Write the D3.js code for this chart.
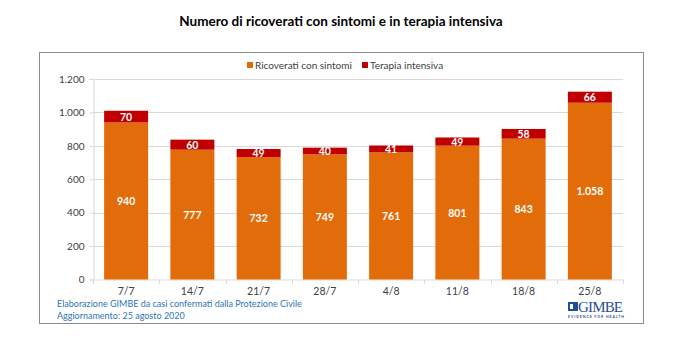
<!DOCTYPE html>
<html><head><meta charset="utf-8">
<script src="https://cdn.jsdelivr.net/npm/d3@7"></script>
<style>body{margin:0;background:#fff}svg{display:block}</style>
</head><body>
<svg id="c" width="694" height="353"></svg>
<script>
const categories = ["7/7","14/7","21/7","28/7","4/8","11/8","18/8","25/8"];
const ricoverati = [940,777,732,749,761,801,843,1058];
const terapia = [70,60,49,40,41,49,58,66];
const yTicks = [0,200,400,600,800,1000,1200];
const seriesNames = ["Ricoverati con sintomi","Terapia intensiva"];
const colors = ["#E36C0A","#C00000"];

const svg = d3.select("#c");
const font = "Lato, 'Open Sans', sans-serif";
const fmt = v => d3.format(",")(v).replace(/,/g,".");

// title
svg.append("text").attr("x",341).attr("y",26).attr("text-anchor","middle")
  .attr("font-family",font).attr("font-weight","bold").attr("font-size",13.5).attr("fill","#000")
  .text("Numero di ricoverati con sintomi e in terapia intensiva");

// frame
svg.append("rect").attr("x",39.5).attr("y",52.5).attr("width",604).attr("height",271)
  .attr("fill","#fff").attr("stroke","#8c8c8c").attr("stroke-width",1);

const x = d3.scaleBand().domain(categories).range([93,623]).paddingInner(0.336).paddingOuter(0.168);
const y = d3.scaleLinear().domain([0,1200]).range([279.5,79]);

// grid
svg.append("g").selectAll("line").data(yTicks.filter(d=>d>0)).join("line")
  .attr("x1",93).attr("x2",623).attr("y1",d=>Math.round(y(d))+0.5).attr("y2",d=>Math.round(y(d))+0.5)
  .attr("stroke","#d9d9d9");

// y axis
const ya = svg.append("g").attr("transform","translate(93.5,0)")
  .call(d3.axisLeft(y).tickValues(yTicks).tickFormat(fmt).tickSize(4).tickPadding(5));
ya.select(".domain").attr("stroke","#d9d9d9");
ya.selectAll(".tick line").attr("stroke","#d9d9d9");
ya.selectAll("text").attr("font-family",font).attr("font-size",10).attr("fill","#404040");

// x axis
const xa = svg.append("g").attr("transform","translate(0,279.5)")
  .call(d3.axisBottom(x).tickSize(0).tickPadding(8));
xa.select(".domain").attr("stroke","#d9d9d9");
xa.selectAll("text").attr("font-family",font).attr("font-size",10.5).attr("fill","#404040");
const step = x.step();
svg.append("g").selectAll("line").data(d3.range(categories.length+1)).join("line")
  .attr("x1",i=>Math.round(93+i*530/categories.length)+0.5).attr("x2",i=>Math.round(93+i*530/categories.length)+0.5)
  .attr("y1",279.5).attr("y2",284).attr("stroke","#d9d9d9");

// bars
const data = categories.map((c,i)=>({c, a:ricoverati[i], b:terapia[i]}));
const g = svg.append("g");
g.selectAll(".ra").data(data).join("rect")
  .attr("x",d=>x(d.c)).attr("width",x.bandwidth())
  .attr("y",d=>y(d.a)).attr("height",d=>y(0)-y(d.a)).attr("fill",colors[0]);
g.selectAll(".rb").data(data).join("rect")
  .attr("x",d=>x(d.c)).attr("width",x.bandwidth())
  .attr("y",d=>y(d.a+d.b)).attr("height",d=>y(d.a)-y(d.a+d.b)).attr("fill",colors[1]);
g.selectAll(".la").data(data).join("text")
  .attr("x",d=>x(d.c)+x.bandwidth()/2).attr("y",d=>(y(0)+y(d.a))/2+4)
  .attr("text-anchor","middle").attr("font-family",font).attr("font-weight","bold")
  .attr("font-size",10.5).attr("fill","#fff").text(d=>fmt(d.a));
g.selectAll(".lb").data(data).join("text")
  .attr("x",d=>x(d.c)+x.bandwidth()/2).attr("y",d=>(y(d.a)+y(d.a+d.b))/2+4)
  .attr("text-anchor","middle").attr("font-family",font).attr("font-weight","bold")
  .attr("font-size",10.5).attr("fill","#fff").text(d=>fmt(d.b));

// legend
const lx = [247,362];
seriesNames.forEach((n,i)=>{
  svg.append("rect").attr("x",lx[i]).attr("y",62).attr("width",6).attr("height",6).attr("fill",colors[i]);
  svg.append("text").attr("x",lx[i]+8).attr("y",68.5).attr("font-family",font).attr("font-size",10)
    .attr("fill","#404040").text(n);
});

// footer
svg.append("text").attr("x",57).attr("y",307).attr("font-family",font).attr("font-size",9)
  .attr("fill","#2E75B6").text("Elaborazione GIMBE da casi confermati dalla Protezione Civile");
svg.append("text").attr("x",57).attr("y",318.5).attr("font-family",font).attr("font-size",9)
  .attr("fill","#2E75B6").text("Aggiornamento: 25 agosto 2020");

// logo
const lg = svg.append("g").attr("fill","#1F4E9A");
lg.append("rect").attr("x",568).attr("y",302).attr("width",10).attr("height",9);
lg.append("rect").attr("x",570).attr("y",304).attr("width",3).attr("height",5).attr("fill","#fff");
lg.append("text").attr("x",578).attr("y",312).attr("font-family","'Liberation Serif', serif")
  .attr("font-size",15).attr("textLength",45).text("GIMBE");
lg.append("text").attr("x",568).attr("y",317.5).attr("font-family",font).attr("font-size",3.5)
  .attr("font-weight","bold").attr("textLength",56).text("EVIDENCE FOR HEALTH");
</script>
</body></html>
